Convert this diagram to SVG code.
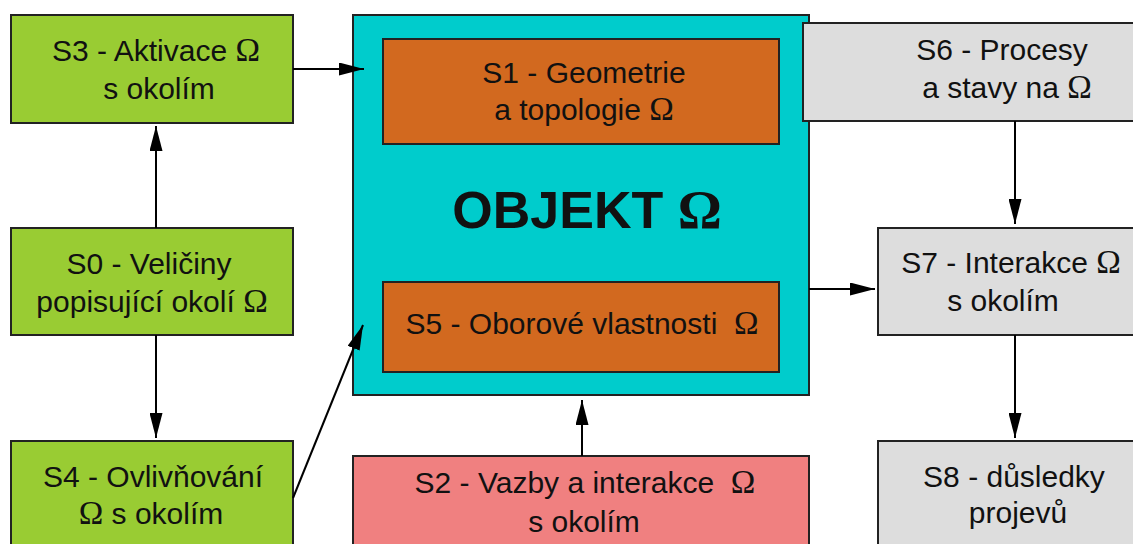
<svg xmlns="http://www.w3.org/2000/svg" width="1133" height="544" viewBox="0 0 1133 544">
<defs>
<marker id="ah" markerUnits="userSpaceOnUse" markerWidth="26" markerHeight="13" refX="25" refY="6.5" orient="auto">
<path d="M0,0 L25,6.5 L0,13 Z" fill="#000"/>
</marker>
<style>
.box{stroke:#222;stroke-width:2}
.g{fill:#99CC33}
.c{fill:#00CCCC}
.o{fill:#D2691F}
.p{fill:#F08080}
.gr{fill:#DDDDDD}
text{font-family:"Liberation Sans",Arial,sans-serif;font-size:30px;fill:#111;text-anchor:middle}
.om{font-family:"Liberation Serif","Times New Roman",serif;font-size:33px}
.big{font-size:52px;font-weight:bold}
.big .om{font-size:55px}
.conn{stroke:#000;stroke-width:2;fill:none;marker-end:url(#ah)}
</style>
</defs>
<rect width="1133" height="544" fill="#fff"/>
<g id="objekt">
<rect class="box c" x="353" y="15" width="456" height="380"/>
<text class="big" x="587" y="228">OBJEKT <tspan class="om">Ω</tspan></text>
</g>
<g id="s1">
<rect class="box o" x="383" y="39" width="396" height="105"/>
<text x="584" y="83">S1 - Geometrie</text>
<text x="584" y="120">a topologie <tspan class="om">Ω</tspan></text>
</g>
<g id="s5">
<rect class="box o" x="383" y="282" width="396" height="90"/>
<text x="582" y="334" xml:space="preserve">S5 - Oborové vlastnosti  <tspan class="om">Ω</tspan></text>
</g>
<g id="s3">
<rect class="box g" x="11" y="15" width="282" height="108"/>
<text x="156" y="61">S3 - Aktivace <tspan class="om">Ω</tspan></text>
<text x="159" y="99">s okolím</text>
</g>
<g id="s0">
<rect class="box g" x="11" y="228" width="282" height="107"/>
<text x="149" y="274">S0 - Veličiny</text>
<text x="152" y="312">popisující okolí <tspan class="om">Ω</tspan></text>
</g>
<g id="s4">
<rect class="box g" x="11" y="441" width="282" height="120"/>
<text x="153" y="487">S4 - Ovlivňování</text>
<text x="151" y="524"><tspan class="om">Ω</tspan> s okolím</text>
</g>
<g id="s2">
<rect class="box p" x="353" y="456" width="456" height="110"/>
<text x="585" y="493" xml:space="preserve">S2 - Vazby a interakce  <tspan class="om">Ω</tspan></text>
<text x="584" y="532">s okolím</text>
</g>
<g id="s6">
<rect class="box gr" x="803" y="23" width="345" height="98"/>
<text x="1002" y="60">S6 - Procesy</text>
<text x="1007" y="98">a stavy na <tspan class="om">Ω</tspan></text>
</g>
<g id="s7">
<rect class="box gr" x="878" y="228" width="270" height="107"/>
<text x="1011" y="273">S7 - Interakce <tspan class="om">Ω</tspan></text>
<text x="1003" y="311">s okolím</text>
</g>
<g id="s8">
<rect class="box gr" x="878" y="441" width="270" height="120"/>
<text x="1014" y="487">S8 - důsledky</text>
<text x="1018" y="523">projevů</text>
</g>
<g id="connectors">
<line class="conn" x1="293" y1="69" x2="364" y2="69"/>
<line class="conn" x1="156" y1="228" x2="156" y2="126"/>
<line class="conn" x1="156" y1="335" x2="156" y2="438"/>
<line class="conn" x1="293" y1="498" x2="363" y2="325"/>
<line class="conn" x1="582" y1="456" x2="582" y2="400"/>
<line class="conn" x1="809" y1="289" x2="875" y2="289"/>
<line class="conn" x1="1015" y1="121" x2="1015" y2="224"/>
<line class="conn" x1="1015" y1="335" x2="1015" y2="438"/>
</g>
</svg>
